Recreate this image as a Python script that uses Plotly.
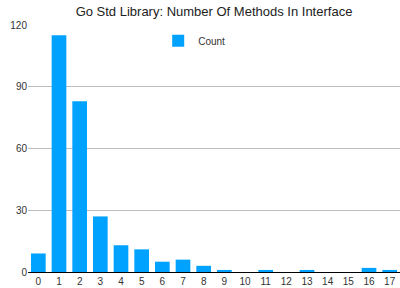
import plotly.graph_objects as go

categories = [str(i) for i in range(18)]
counts = [9, 115, 83, 27, 13, 11, 5, 6, 3, 1, 0, 1, 0, 1, 0, 0, 2, 1]
y_ticks = [0, 30, 60, 90, 120]

fig = go.Figure()
fig.add_trace(go.Bar(x=categories, y=counts, name="Count", marker_color="#00A2FF",
                     marker_line_width=0))

font_family = "Liberation Sans, Arial, Helvetica, sans-serif"
fig.update_layout(
    width=400, height=288,
    margin=dict(l=28, r=0, t=25, b=16, autoexpand=False),
    paper_bgcolor="white", plot_bgcolor="white",
    title=dict(text="Go Std Library: Number Of Methods In Interface",
               font=dict(family=font_family, size=13, color="#222"),
               x=0.535, xanchor="center", y=0.975, yanchor="top"),
    font=dict(family=font_family, size=10, color="#333"),
    bargap=0.29,
    showlegend=True,
    legend=dict(x=0.35, y=0.995, xanchor="left", yanchor="top",
                bgcolor="rgba(0,0,0,0)", font=dict(size=10, color="#333"),
                itemwidth=30),
    xaxis=dict(type="category", showgrid=False, ticks="", showline=True,
               linecolor="black", linewidth=1, automargin=False,
               tickfont=dict(size=10, color="#333")),
    yaxis=dict(range=[0, 120], tickvals=y_ticks, showgrid=True, gridcolor="#BDBDBD",
               gridwidth=1, zeroline=False, ticks="", showline=False,
               automargin=False, tickfont=dict(size=10, color="#333")),
)
fig.write_html("out.html")
